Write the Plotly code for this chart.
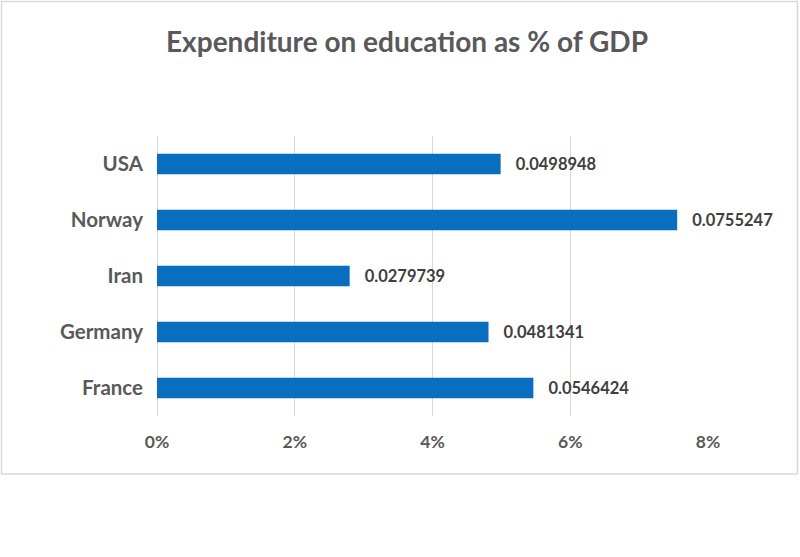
import plotly.graph_objects as go

countries = ["USA", "Norway", "Iran", "Germany", "France"]
values = [0.0498948, 0.0755247, 0.0279739, 0.0481341, 0.0546424]
tick_vals = [0, 0.02, 0.04, 0.06, 0.08]
title_text = "Expenditure on education as % of GDP"

W, H = 800, 557
L, R, T, B = 157, 708, 136, 416

fig = go.Figure()
fig.add_trace(go.Bar(
    y=countries, x=values, orientation="h",
    marker=dict(color="#0A6EC0", line=dict(width=0)),
    width=0.37,
    texttemplate="   %{x:.7f}", textposition="outside",
    textfont=dict(family="Lato", size=16.5, color="#404040", weight="bold"),
    cliponaxis=False,
))

def px2x(px):
    return (px - L) / (R - L)

def py2y(py):
    return (B - py) / (B - T)

fig.add_shape(type="rect", xref="paper", yref="paper",
              x0=px2x(1.5), x1=px2x(797.5), y0=py2y(474), y1=py2y(1.5),
              line=dict(color="#D9D9D9", width=1.5), layer="below")

fig.update_layout(
    width=W, height=H,
    margin=dict(l=L, r=W - R, t=T, b=H - B),
    paper_bgcolor="white", plot_bgcolor="white",
    showlegend=False,
    title=dict(text=title_text, x=px2x(407), xref="paper", xanchor="center",
               y=1 - 42 / H, yref="container", yanchor="middle",
               font=dict(family="Lato", size=28, color="#595959", weight="bold")),
    xaxis=dict(range=[0, 0.08], tickvals=tick_vals, tickformat=".0%",
               showgrid=True, gridcolor="#D9D9D9", gridwidth=1,
               zeroline=True, zerolinecolor="#D9D9D9", zerolinewidth=1,
               showline=False, ticks="", ticklabelstandoff=13,
               tickfont=dict(family="Lato", size=17.5, color="#595959", weight="bold")),
    yaxis=dict(autorange="reversed", showgrid=False, zeroline=False,
               showline=False, ticks="", ticklabelstandoff=13,
               tickfont=dict(family="Lato", size=20.5, color="#595959", weight="bold")),
    bargap=0.63,
)

fig.write_html("out.html")
